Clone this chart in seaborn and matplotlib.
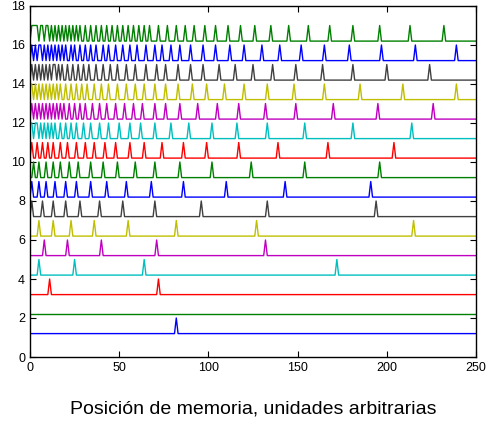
import numpy as np
import pandas as pd
import matplotlib
matplotlib.use("Agg")
import matplotlib.pyplot as plt
import seaborn as sns

# posiciones de los picos de cada traza (de abajo hacia arriba)
spikes_1 = [82]
spikes_2 = []
spikes_3 = [11, 72]
spikes_4 = [5, 25, 64, 172]
spikes_5 = [8, 21, 40, 71, 132]
spikes_6 = [5, 13, 23, 36, 55, 82, 127, 215]
spikes_7 = [1, 7, 13, 20, 28, 39, 52, 70, 96, 133, 194]
spikes_8 = [1, 5, 9, 14, 20, 26, 34, 43, 54, 68, 86, 110, 143, 191]
spikes_9 = [2, 5, 9, 13, 17, 22, 27, 34, 41, 49, 59, 70, 84, 102, 124, 154, 196]
spikes_10 = [1, 4, 7, 10, 13, 17, 21, 26, 31, 36, 42, 48, 56, 64, 74, 86, 99,
             117, 139, 167, 204]
spikes_11 = [0, 1, 3, 4, 6, 8, 10, 12, 14, 17, 20, 23, 26, 30, 34, 39, 44, 50,
             56, 62, 70, 79, 89, 102, 116, 133, 154, 181, 214]
spikes_12 = [1, 3, 5, 7, 9, 11, 13, 15, 17, 19, 22, 25, 28, 31, 35, 39, 43, 48,
             53, 58, 63, 70, 76, 84, 94, 105, 117, 132, 149, 170, 195, 226]
spikes_13 = [0, 1, 3, 5, 7, 9, 11, 13, 15, 17, 20, 23, 26, 29, 32, 36, 40, 44,
             49, 54, 59, 64, 70, 76, 83, 91, 99, 109, 120, 133, 148, 165, 185,
             209, 239]
spikes_14 = [1, 3, 5, 7, 9, 11, 13, 14, 16, 18, 21, 24, 27, 30, 33, 37, 41, 45,
             49, 54, 59, 65, 71, 76, 83, 90, 97, 106, 115, 125, 136, 149, 164,
             181, 200, 224]
spikes_15 = [1, 3, 5, 6, 8, 10, 12, 14, 16, 18, 20, 23, 25, 28, 31, 34, 37, 41,
             44, 48, 52, 56, 60, 65, 70, 74, 79, 84, 90, 97, 104, 112, 120, 130,
             140, 152, 165, 179, 197, 216, 239]
spikes_16 = [1, 2, 3, 4, 6, 7, 9, 10, 12, 14, 16, 18, 20, 22, 24, 26, 28, 31, 34,
             37, 40, 43, 46, 49, 52, 55, 58, 61, 64, 67, 72, 77, 82, 87, 92, 98,
             104, 111, 118, 126, 135, 145, 156, 168, 181, 196, 213, 232]

all_spikes = [spikes_1, spikes_2, spikes_3, spikes_4, spikes_5, spikes_6,
              spikes_7, spikes_8, spikes_9, spikes_10, spikes_11, spikes_12,
              spikes_13, spikes_14, spikes_15, spikes_16]

# colores clasicos de MATLAB
line_colors = ["#0000ff", "#008000", "#ff0000", "#00bfbf", "#bf00bf",
               "#bfbf00", "#404040"]

n_pos = 251
pos = np.arange(n_pos)

rows = []
for k, spk in enumerate(all_spikes, start=1):
    v = np.zeros(n_pos)
    v[spk] = 1.0
    y = k + 0.2 + 0.8 * v
    rows.append(pd.DataFrame({"pos": pos, "y": y, "traza": k}))
df = pd.concat(rows, ignore_index=True)

palette = {k: line_colors[(k - 1) % len(line_colors)] for k in range(1, 17)}

sns.set_style("ticks")
plt.rcParams["font.family"] = ["Liberation Sans", "DejaVu Sans"]

fig = plt.figure(figsize=(4.95, 4.25), dpi=100)
ax = fig.add_axes([30 / 495, 1 - 357 / 425, 446 / 495, 351 / 425])

sns.lineplot(data=df, x="pos", y="y", hue="traza", palette=palette,
             estimator=None, sort=False, legend=False, linewidth=1.0, ax=ax)

ax.set_xlim(0, 250)
ax.set_ylim(0, 18)
ax.set_xticks(range(0, 251, 50))
ax.set_yticks(range(0, 19, 2))
ax.tick_params(direction="in", top=True, right=True, length=4, width=0.8,
               labelsize=9, colors="black")
for s in ax.spines.values():
    s.set_linewidth(1.0)
    s.set_color("black")
ax.set_xlabel("Posición de memoria, unidades arbitrarias", fontsize=14,
              labelpad=19, color="black")
ax.set_ylabel("")

fig.savefig("out.png", dpi=100)
